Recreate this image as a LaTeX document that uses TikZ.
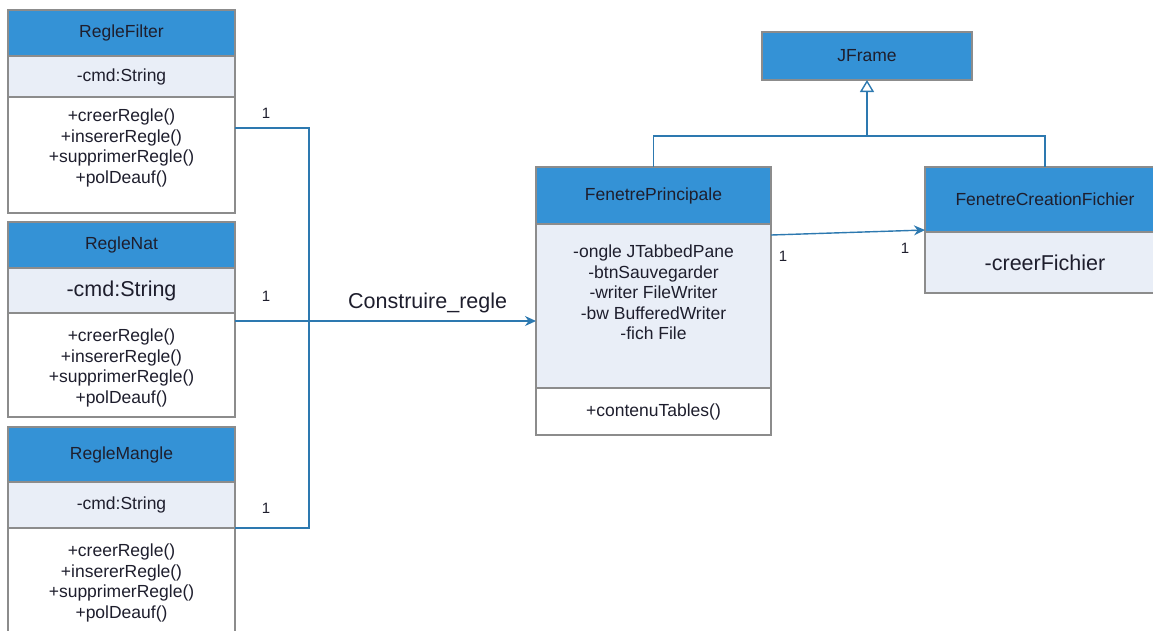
\documentclass[tikz,border=0pt]{standalone}
\usepackage{fontspec}
\setmainfont{Liberation Sans}
\usetikzlibrary{positioning,arrows.meta}
\definecolor{headblue}{RGB}{52,146,214}
\definecolor{attrfill}{RGB}{233,238,247}
\definecolor{boxgray}{RGB}{140,140,140}
\definecolor{linkblue}{RGB}{45,121,176}
\definecolor{inkdark}{RGB}{30,30,45}
\newcommand{\smallfont}{\fontsize{17.5}{20.5}\selectfont}
\newcommand{\bigfont}{\fontsize{21.5}{24}\selectfont}
\tikzset{
	compbox/.style={draw=boxgray, line width=1.3pt, inner sep=0pt, outer sep=0pt, text=inkdark, font=\smallfont},
	headbox/.style={compbox, fill=headblue},
	attrbox/.style={compbox, fill=attrfill},
	methbox/.style={compbox, fill=white},
	classtext/.style={inner sep=0pt, align=center, text=inkdark, font=\smallfont},
	link/.style={draw=linkblue, line width=1.4pt},
	mult/.style={inner sep=0pt, text=inkdark, font=\fontsize{15}{15}\selectfont}
}

\begin{document}
\begin{tikzpicture}[x=1pt, y=1pt]
	\useasboundingbox (0,0) rectangle (1153,-630);
	\clip (0,0) rectangle (1153,-630);
	% RegleFilter
	\node[headbox, minimum width=227pt, minimum height=46pt] (rfh) at (121.5,-33) {RegleFilter};
	\node[attrbox, minimum width=227pt, minimum height=41pt, below=0pt of rfh] (rfa) {-cmd:String};
	\node[methbox, minimum width=227pt, minimum height=116pt, below=0pt of rfa] (rfm) {};
	\node[classtext, anchor=north] (rfmt) at ([yshift=-12pt]rfm.north) {+creerRegle()\\+insererRegle()\\+supprimerRegle()\\+polDeauf()};
	% RegleNat
	\node[headbox, minimum width=227pt, minimum height=46pt] (rnh) at (121.5,-245) {RegleNat};
	\node[attrbox, minimum width=227pt, minimum height=45pt, below=0pt of rnh, font=\bigfont] (rna) {-cmd:String};
	\node[methbox, minimum width=227pt, minimum height=104pt, below=0pt of rna] (rnm) {};
	\node[classtext, anchor=north] (rnmt) at ([yshift=-16pt]rnm.north) {+creerRegle()\\+insererRegle()\\+supprimerRegle()\\+polDeauf()};
	% RegleMangle
	\node[headbox, minimum width=227pt, minimum height=55pt] (rmh) at (121.5,-454.5) {RegleMangle};
	\node[attrbox, minimum width=227pt, minimum height=46pt, below=0pt of rmh] (rma) {-cmd:String};
	\node[methbox, minimum width=227pt, minimum height=115pt, below=0pt of rma] (rmm) {};
	\node[classtext, anchor=north] (rmmt) at ([yshift=-16pt]rmm.north) {+creerRegle()\\+insererRegle()\\+supprimerRegle()\\+polDeauf()};
	% FenetrePrincipale
	\node[headbox, minimum width=235pt, minimum height=57pt] (fph) at (653.5,-195.5) {FenetrePrincipale};
	\node[attrbox, minimum width=235pt, minimum height=164pt, below=0pt of fph] (fpa) {};
	\node[classtext, anchor=north] (fpat) at ([yshift=-21pt]fpa.north) {-ongle JTabbedPane\\-btnSauvegarder\\-writer FileWriter\\-bw BufferedWriter\\-fich File};
	\node[methbox, minimum width=235pt, minimum height=47pt, below=0pt of fpa] (fpm) {+contenuTables()};
	% FenetreCreationFichier
	\node[headbox, minimum width=240pt, minimum height=65pt] (fch) at (1045,-199.5) {FenetreCreationFichier};
	\node[attrbox, minimum width=240pt, minimum height=61pt, below=0pt of fch, font=\bigfont] (fca) {-creerFichier};
	% JFrame
	\node[headbox, minimum width=210pt, minimum height=48pt] (jf) at (867,-56) {JFrame};

	% associations
	\coordinate (bus) at (309,-321);
	\draw[link] ([yshift=27pt]rfm.east) -| (bus);
	\draw[link] (rma.south east) -| (bus);
	\draw[link, -{Stealth[length=11pt, width=10pt]}] ([yshift=-8pt]rnm.north east) -- ([yshift=-8pt]rnm.north east -| fpa.west)
		node[pos=0.64, above=7pt, inner sep=0pt, text=inkdark, font=\bigfont] {Construire\_regle};
	\draw[link, -{Stealth[length=11pt, width=10pt]}] ([yshift=-11pt]fpa.north east) -- ([yshift=2pt]fca.north west);
	\node[mult] (m1) at (266,-113) {1};
	\node[mult] (m2) at (266,-296) {1};
	\node[mult] (m3) at (266,-508) {1};
	\node[mult] (m4) at (783,-256) {1};
	\node[mult] (m5) at (905,-248) {1};

	% generalisation
	\coordinate (gen) at (867,-136);
	\draw[link] (fph.north) |- (gen) -| (fch.north);
	\draw[link, -{Triangle[open, fill=white, length=12pt, width=14pt]}] (gen) -- (jf.south);
\end{tikzpicture}
\end{document}
